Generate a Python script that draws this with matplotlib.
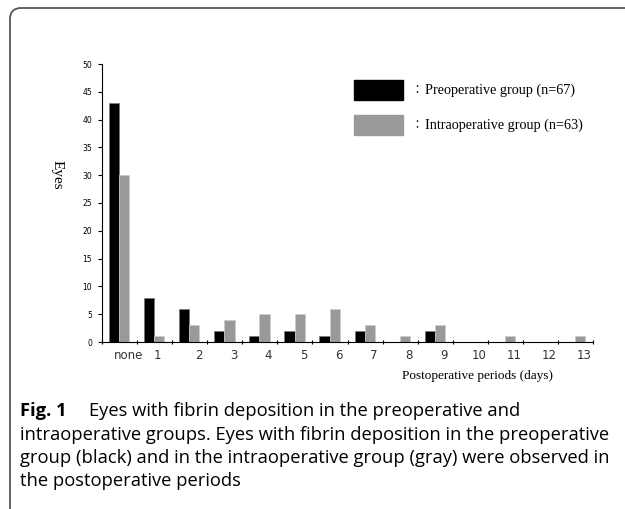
import numpy as np
import matplotlib
matplotlib.use("Agg")
import matplotlib.pyplot as plt
from matplotlib.path import Path
from matplotlib.patches import PathPatch
from matplotlib.transforms import IdentityTransform

categories = ["none", "1", "2", "3", "4", "5", "6", "7", "8", "9", "10", "11", "12", "13"]
preoperative = [43, 8, 6, 2, 1, 2, 1, 2, 0, 2, 0, 0, 0, 0]
intraoperative = [30, 1, 3, 4, 5, 5, 6, 3, 1, 3, 0, 1, 0, 1]
legend_labels = ["Preoperative group (n=67)", "Intraoperative group (n=63)"]

W, H = 625, 509
fig = plt.figure(figsize=(W / 100, H / 100), dpi=100)

# axes placed in pixel terms of the reference
ax = fig.add_axes([102 / W, 1 - 342 / H, (593 - 102) / W, (342 - 64) / H])

x = np.arange(len(categories))
bw = 0.29
ax.bar(x - 0.155, preoperative, bw, color="black", edgecolor="#777777", linewidth=0.5)
ax.bar(x + 0.135, intraoperative, bw, color="#999999", edgecolor="#cccccc", linewidth=0.5)

ax.set_xlim(-0.5, len(categories) - 0.5)
ax.set_ylim(0, 50)
ax.set_yticks(np.arange(0, 51, 5))
ax.tick_params(axis="y", labelsize=5.5, length=3, width=0.8, pad=4)

# labels sit a little right of the group centres in the reference
lab_pos = x + 0.25
lab_pos[1] = 1.07
ax.set_xticks(lab_pos)
ax.set_xticklabels(categories, fontsize=8.5, color="#333333")
ax.set_xticks(np.arange(-0.5, len(categories), 1), minor=True)
ax.tick_params(axis="x", which="major", length=0, pad=5)
ax.tick_params(axis="x", which="minor", length=3, width=0.8, direction="inout")

for s in ["top", "right"]:
    ax.spines[s].set_visible(False)
for s in ["left", "bottom"]:
    ax.spines[s].set_linewidth(0.8)

serif = "Liberation Serif"
fig.text(57 / W, 1 - 175 / H, "Eyes", rotation=-90, ha="center", va="center",
         fontsize=11, family=serif)
fig.text(478 / W, 1 - 376 / H, "Postoperative periods (days)", ha="center", va="center",
         fontsize=9.5, family=serif)

# legend drawn as boxes with text
for i, (lab, col) in enumerate(zip(legend_labels, ["black", "#999999"])):
    yc = 90 + 35 * i
    fig.patches.append(plt.Rectangle((354 / W, 1 - (yc + 10) / H), 49 / W, 20 / H,
                                     transform=fig.transFigure, color=col))
    fig.text(411 / W, 1 - yc / H, "：", ha="left", va="center", fontsize=8,
             family=["Noto Sans CJK JP"])
    fig.text(425 / W, 1 - yc / H, lab, ha="left", va="center", fontsize=10.2, family=serif)

# rounded frame (top and left only)
r = 11
verts = [(W + 5, H - 8), (10 + r, H - 8), (10, H - 8), (10, H - 8 - r), (10, -5)]
codes = [Path.MOVETO, Path.LINETO, Path.CURVE3, Path.CURVE3, Path.LINETO]
fig.patches.append(PathPatch(Path(verts, codes), transform=IdentityTransform(),
                             fill=False, edgecolor="#555555", linewidth=1.3))

# caption
cap = "Open Sans"
fs = 13.2
fig.text(20 / W, 1 - 416 / H, "Fig. 1", ha="left", va="baseline", fontsize=fs,
         family=cap, weight="bold")
fig.text(89 / W, 1 - 416 / H, "Eyes with fibrin deposition in the preoperative and",
         ha="left", va="baseline", fontsize=fs, family=cap)
lines = ["intraoperative groups. Eyes with fibrin deposition in the preoperative",
         "group (black) and in the intraoperative group (gray) were observed in",
         "the postoperative periods"]
for i, ln in enumerate(lines):
    fig.text(20 / W, 1 - (439.5 + 23.5 * i) / H, ln, ha="left", va="baseline",
             fontsize=fs, family=cap)

fig.savefig("out.png", dpi=100)
